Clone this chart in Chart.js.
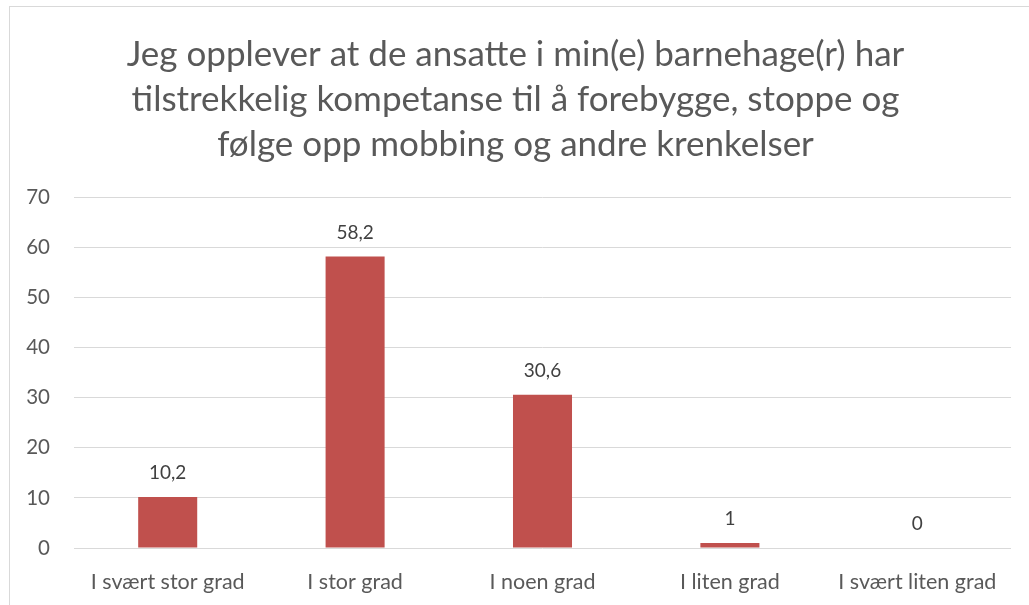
<!DOCTYPE html>
<html>
<head>
<meta charset="utf-8">
<script src="https://cdn.jsdelivr.net/npm/chart.js@4/dist/chart.umd.min.js"></script>
<style>
  html, body { margin: 0; padding: 0; background: #fff; overflow: hidden; }
  #ramme { position: absolute; left: 9px; top: 6px; width: 1040px; height: 620px; border: 1px solid #d9d9d9; }
  #wrap { position: absolute; left: 0; top: 0; width: 1029px; height: 605px; }
</style>
</head>
<body>
<div id="ramme"></div>
<div id="wrap"><canvas id="chart"></canvas></div>
<script>
// ── DATA ─────────────────────────────────────────
const tittel = [
  'Jeg opplever at de ansatte i min(e) barnehage(r) har',
  'tilstrekkelig kompetanse til å forebygge, stoppe og',
  'følge opp mobbing og andre krenkelser'
];
const kategorier = ['I svært stor grad', 'I stor grad', 'I noen grad', 'I liten grad', 'I svært liten grad'];
const prosent = [10.2, 58.2, 30.6, 1, 0];
const yMin = 0, yMax = 70, ySteg = 10;

const FONT = 'Lato';

// ── VERDIETIKETTER over søylene ──────────────────
const verdiEtiketter = {
  id: 'verdiEtiketter',
  afterDatasetsDraw(chart) {
    const ctx = chart.ctx;
    const meta = chart.getDatasetMeta(0);
    ctx.save();
    ctx.font = '19px ' + FONT;
    ctx.fillStyle = '#404040';
    ctx.textAlign = 'center';
    ctx.textBaseline = 'middle';
    meta.data.forEach((bar, i) => {
      const v = chart.data.datasets[0].data[i];
      ctx.fillText(String(v).replace('.', ','), bar.x, bar.y - 24);
    });
    ctx.restore();
  }
};

new Chart(document.getElementById('chart'), {
  type: 'bar',
  data: {
    labels: kategorier,
    datasets: [{
      data: prosent,
      backgroundColor: '#C0504D',
      barPercentage: 0.63,
      categoryPercentage: 0.5,
    }],
  },
  options: {
    responsive: true,
    maintainAspectRatio: false,
    animation: false,
    layout: { padding: { left: 20, right: 18, bottom: 0, top: 0 } },
    plugins: {
      legend: { display: false },
      tooltip: { enabled: false },
      title: {
        display: true,
        text: tittel,
        color: '#595959',
        font: { family: FONT, size: 35, weight: 'normal', lineHeight: 1.29 },
        padding: { top: 32, bottom: 30 },
      },
    },
    scales: {
      x: {
        grid: { display: false },
        border: { display: false },
        ticks: { color: '#595959', font: { family: FONT, size: 21.5 }, padding: 13, maxRotation: 0 },
        afterFit: s => { s.height = 57; },
      },
      y: {
        min: yMin,
        max: yMax,
        grid: { color: '#d9d9d9', lineWidth: 1, tickLength: 0 },
        border: { display: false },
        ticks: { stepSize: ySteg, color: '#595959', font: { family: FONT, size: 20.5 }, padding: 24 },
        afterFit: s => { s.width = 54; },
      },
    },
  },
  plugins: [verdiEtiketter],
});
</script>
</body>
</html>
